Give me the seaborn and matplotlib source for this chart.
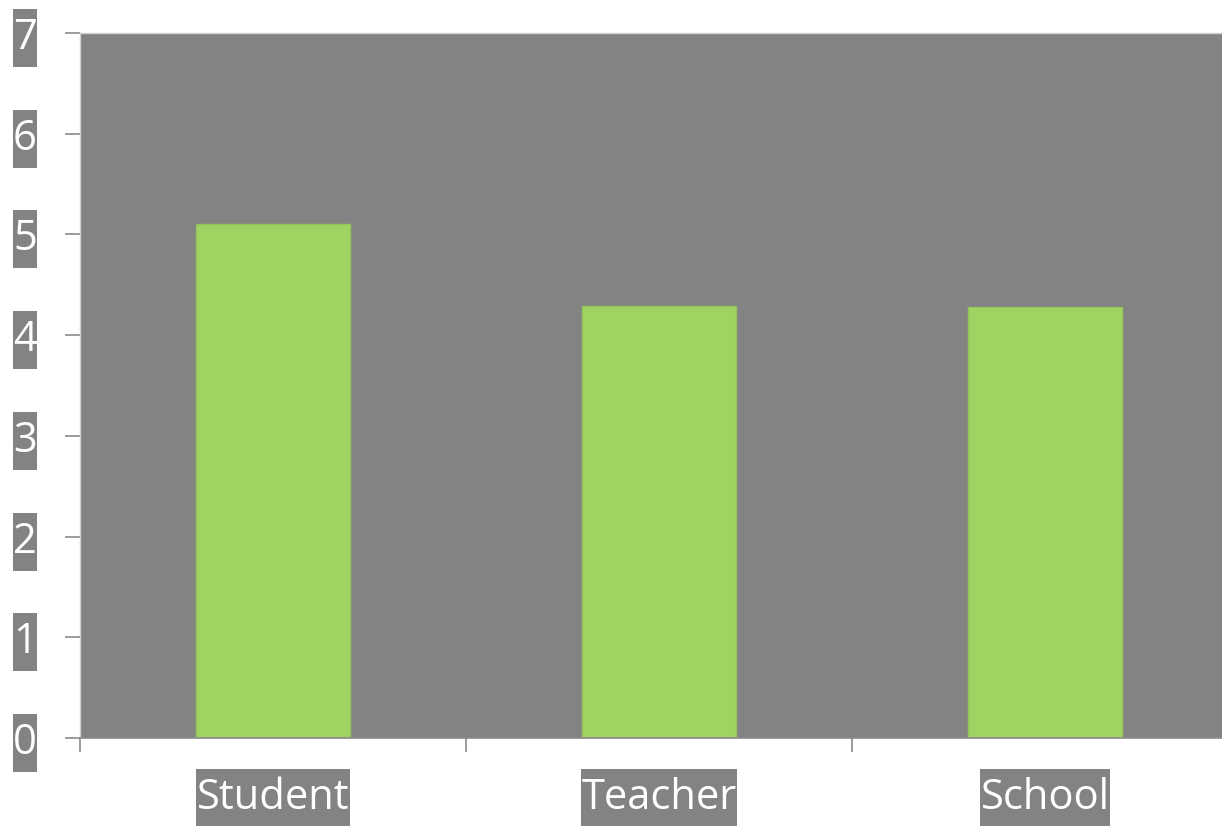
import matplotlib
matplotlib.use("Agg")
import matplotlib.pyplot as plt
from matplotlib.path import Path
import seaborn as sns
import pandas as pd
import numpy as np

categories = ["Student", "Teacher", "School"]
values = [5.1, 4.29, 4.28]
yticks = [0, 1, 2, 3, 4, 5, 6, 7]

sns.set_theme(style="white")
plt.rcParams['font.family'] = ['Open Sans', 'DejaVu Sans']

BG = "#838383"
GREEN = "#A0D462"
W, H = 1222, 826
fig = plt.figure(figsize=(W / 100, H / 100), dpi=100)
ax = fig.add_axes([80 / W, (H - 738) / H, 1158 / W, 705 / H])
ax.set_facecolor(BG)

df = pd.DataFrame({"cat": categories, "val": values})
sns.barplot(data=df, x="cat", y="val", color=GREEN, width=0.4, saturation=1,
            edgecolor="#93C45A", linewidth=1, ax=ax)

ax.set_xlim(-0.5, 2.5)
ax.set_ylim(0, 7)
ax.set_xlabel("")
ax.set_ylabel("")

# major x ticks at category boundaries, labels at centers
ax.set_xticks([-0.5, 0.5, 1.5], labels=["", "", ""])
ax.set_xticks(range(len(categories)), labels=categories, minor=True)
ax.tick_params(axis="x", which="major", direction="out", length=10, width=1.2,
               color="#8a8a8a", bottom=True)
ax.tick_params(axis="x", which="minor", length=0, pad=28, labelsize=30,
               labelcolor="white")
ax.set_yticks(yticks, labels=[str(v) for v in yticks])
ax.tick_params(axis="y", direction="out", length=11, width=1.2, color="#8a8a8a",
               pad=20, labelsize=30, labelcolor="white", left=True)


def tallbox(x0, y0, width, height, mutation_size):
    px, py = 0.5, 8.0
    verts = [(x0 - px, y0 - py), (x0 + width + px, y0 - py),
             (x0 + width + px, y0 + height + py), (x0 - px, y0 + height + py),
             (x0 - px, y0 - py)]
    codes = [Path.MOVETO, Path.LINETO, Path.LINETO, Path.LINETO, Path.CLOSEPOLY]
    return Path(verts, codes)


for lab in ax.get_xticklabels(minor=True) + ax.get_yticklabels():
    lab.set_bbox(dict(facecolor=BG, edgecolor="none", boxstyle=tallbox))

for s in ["left", "top"]:
    ax.spines[s].set_color("#d0d0d0")
    ax.spines[s].set_linewidth(1)
ax.spines["bottom"].set_color("#8a8a8a")
ax.spines["bottom"].set_linewidth(1.2)
ax.spines["right"].set_visible(False)

fig.savefig("out.png", dpi=100)
